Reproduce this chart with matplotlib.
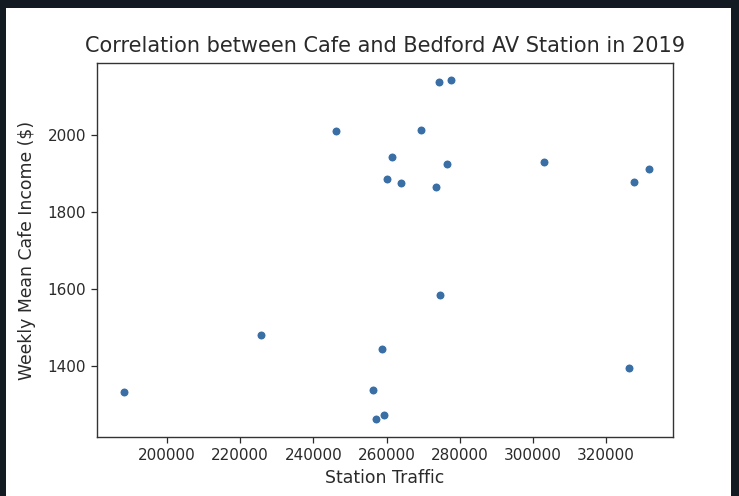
import matplotlib
matplotlib.use("Agg")
import matplotlib.pyplot as plt
from matplotlib.patches import Rectangle

# weekly data points
station_traffic = [188110, 225812, 246050, 258682, 256293, 257227, 259231,
                   261620, 260247, 263982, 269474, 273428, 274252, 277547,
                   276614, 274692, 302976, 326151, 327607, 331726]
cafe_income = [1334, 1481, 2010, 1445, 1339, 1262, 1272,
               1943, 1886, 1876, 2014, 1864, 2138, 2143,
               1925, 1584, 1929, 1396, 1877, 1911]

x_ticks = [200000, 220000, 240000, 260000, 280000, 300000, 320000]
y_ticks = [1400, 1600, 1800, 2000]

fig = plt.figure(figsize=(7.39, 4.96), dpi=100)
fig.patch.set_facecolor('#141a21')
# white screenshot area inside the dark notebook frame
fig.patches.append(Rectangle((6 / 739, 0), (731 - 6) / 739, (496 - 8) / 496,
                             transform=fig.transFigure, facecolor='white',
                             edgecolor='none', zorder=-5))

ax = fig.add_axes([97 / 739, 59 / 496, 576 / 739, 374 / 496])
ax.set_zorder(2)
ax.scatter(station_traffic, cafe_income, s=42, color='#3a6fa6',
           edgecolors='white', linewidths=0.7, zorder=3)

ax.set_xticks(x_ticks)
ax.set_yticks(y_ticks)
ax.ticklabel_format(style='plain', useOffset=False)
ax.set_xlim(180850, 338300)
ax.set_ylim(1216, 2187)

ax.tick_params(labelsize=11, colors='#2a2a2a', length=4.5, width=0.9)
for s in ax.spines.values():
    s.set_color('#333333')
    s.set_linewidth(1.0)

ax.set_title('Correlation between Cafe and Bedford AV Station in 2019',
             fontsize=15, color='#2a2a2a', pad=8)
ax.set_xlabel('Station Traffic', fontsize=12.4, color='#2a2a2a', labelpad=4)
ax.set_ylabel('Weekly Mean Cafe Income ($)', fontsize=12.4, color='#2a2a2a',
              labelpad=8)

fig.savefig('out.png', dpi=100, facecolor=fig.get_facecolor())
